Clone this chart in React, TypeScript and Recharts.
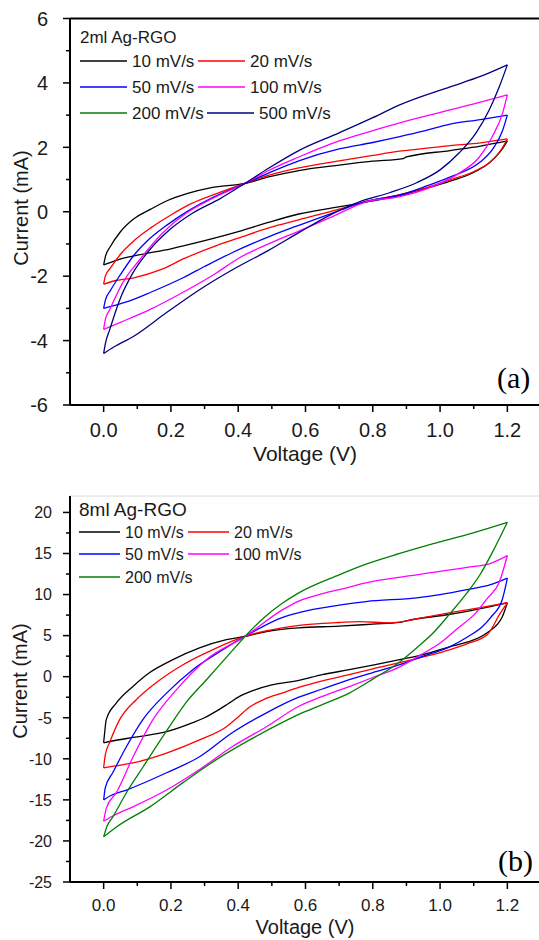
import React from "react";
import { LineChart, Line, XAxis, YAxis, ReferenceLine } from "recharts";

type Pt = [number, number];

// tick values
const voltageTicks = [0, 0.1, 0.2, 0.3, 0.4, 0.5, 0.6, 0.7, 0.8, 0.9, 1.0, 1.1, 1.2];
const currentTicksA = [-6, -5, -4, -3, -2, -1, 0, 1, 2, 3, 4, 5, 6];
const currentTicksB = [
  -25, -22.5, -20, -17.5, -15, -12.5, -10, -7.5, -5, -2.5, 0, 2.5, 5, 7.5, 10, 12.5, 15, 17.5, 20,
];

const scanRatesA = ["10 mV/s", "20 mV/s", "50 mV/s", "100 mV/s", "200 mV/s", "500 mV/s"];
const scanRatesB = ["10 mV/s", "20 mV/s", "50 mV/s", "100 mV/s", "200 mV/s"];
const rateColors: Record<string, string> = {
  "10 mV/s": "#000000",
  "20 mV/s": "#ff0000",
  "50 mV/s": "#0000ff",
  "100 mV/s": "#ff00ff",
  "200 mV/s": "#008000",
  "500 mV/s": "#000080",
};

// (a) 2ml Ag-RGO, [voltage V, current mA], forward scan then reverse scan
const a10: Pt[] = [
  [0, -1.65], [0.005, -1.4], [0.02, -1.08], [0.05, -0.62], [0.09, -0.22], [0.14, 0.08], [0.19, 0.35],
  [0.25, 0.57], [0.32, 0.75], [0.42, 0.88], [0.49, 1.08], [0.58, 1.28], [0.7, 1.45], [0.8, 1.57],
  [0.89, 1.65], [0.9, 1.7], [1.03, 1.9], [1.12, 2.04], [1.2, 2.2],
  [1.185, 1.95], [1.15, 1.55], [1.1, 1.22], [1.03, 0.95], [0.95, 0.7], [0.88, 0.5], [0.78, 0.3],
  [0.68, 0.12], [0.58, -0.07], [0.49, -0.33], [0.4, -0.62], [0.3, -0.9], [0.2, -1.15], [0.1, -1.35],
  [0.04, -1.5], [0, -1.65],
];
const a20: Pt[] = [
  [0, -2.25], [0.005, -2.0], [0.02, -1.75], [0.05, -1.32], [0.09, -0.9], [0.14, -0.5], [0.2, -0.1],
  [0.26, 0.25], [0.34, 0.58], [0.42, 0.88], [0.49, 1.13], [0.58, 1.36], [0.7, 1.58], [0.8, 1.75],
  [0.88, 1.88], [1.03, 2.05], [1.12, 2.14], [1.2, 2.26],
  [1.185, 1.98], [1.15, 1.55], [1.1, 1.25], [1.03, 0.99], [0.95, 0.72], [0.88, 0.53], [0.78, 0.32],
  [0.7, 0.08], [0.58, -0.25], [0.49, -0.5], [0.4, -0.82], [0.335, -1.05], [0.24, -1.45], [0.17, -1.8],
  [0.09, -2.05], [0.03, -2.15], [0, -2.25],
];
const a50: Pt[] = [
  [0, -3.0], [0.005, -2.75], [0.02, -2.45], [0.05, -1.95], [0.09, -1.35], [0.13, -0.9], [0.19, -0.4],
  [0.25, 0.02], [0.33, 0.47], [0.42, 0.88], [0.49, 1.2], [0.58, 1.58], [0.7, 1.95], [0.8, 2.15],
  [0.88, 2.33], [0.95, 2.5], [1.03, 2.72], [1.12, 2.86], [1.2, 3.0],
  [1.185, 2.5], [1.16, 2.0], [1.12, 1.55], [1.04, 1.12], [0.96, 0.8], [0.88, 0.52], [0.78, 0.32],
  [0.68, -0.04], [0.58, -0.42], [0.49, -0.78], [0.38, -1.28], [0.3, -1.7], [0.236, -2.05], [0.14, -2.5],
  [0.068, -2.8], [0, -3.0],
];
const a100: Pt[] = [
  [0, -3.65], [0.005, -3.35], [0.018, -3.04], [0.057, -2.2], [0.107, -1.49], [0.176, -0.65],
  [0.246, -0.04], [0.325, 0.42], [0.42, 0.88], [0.49, 1.28], [0.58, 1.7], [0.7, 2.2], [0.8, 2.52],
  [0.88, 2.76], [1.03, 3.16], [1.12, 3.4], [1.2, 3.63],
  [1.186, 3.07], [1.155, 2.33], [1.117, 1.7], [1.057, 1.2], [0.977, 0.78], [0.88, 0.47], [0.78, 0.31],
  [0.68, -0.15], [0.58, -0.6], [0.49, -1.0], [0.4, -1.45], [0.335, -1.9], [0.236, -2.5], [0.137, -3.04],
  [0.048, -3.44], [0, -3.65],
];
const a500: Pt[] = [
  [0, -4.4], [0.005, -4.1], [0.018, -3.66], [0.048, -2.73], [0.087, -1.9], [0.137, -1.18], [0.196, -0.56],
  [0.265, -0.04], [0.345, 0.4], [0.42, 0.88], [0.49, 1.35], [0.58, 1.9], [0.7, 2.45], [0.8, 2.92],
  [0.88, 3.32], [1.03, 3.88], [1.12, 4.2], [1.2, 4.56],
  [1.176, 3.88], [1.146, 3.16], [1.107, 2.45], [1.057, 1.83], [1.0, 1.3], [0.93, 0.9], [0.85, 0.59],
  [0.76, 0.31], [0.67, -0.12], [0.58, -0.65], [0.49, -1.2], [0.383, -1.8], [0.285, -2.42], [0.187, -3.13],
  [0.087, -3.88], [0.03, -4.2], [0, -4.4],
];

// (b) 8ml Ag-RGO
const b10: Pt[] = [
  [0, -8.05], [0.003, -6.8], [0.008, -5.2], [0.038, -3.2], [0.087, -1.2], [0.137, 0.5], [0.206, 2.07],
  [0.285, 3.5], [0.365, 4.5], [0.42, 4.9], [0.484, 5.5], [0.58, 5.95], [0.7, 6.15], [0.8, 6.4],
  [0.88, 6.6], [0.9, 6.8], [1.03, 7.6], [1.12, 8.3], [1.2, 9.0],
  [1.185, 7.3], [1.14, 5.35], [1.08, 4.2], [1.03, 3.66], [0.95, 2.7], [0.88, 2.07], [0.8, 1.4],
  [0.73, 0.85], [0.65, 0.25], [0.58, -0.45], [0.5, -1.0], [0.45, -1.6], [0.404, -2.4], [0.37, -3.3],
  [0.335, -4.2], [0.3, -5.0], [0.265, -5.6], [0.187, -6.7], [0.087, -7.4], [0.03, -7.8], [0, -8.05],
];
const b20: Pt[] = [
  [0, -11.1], [0.005, -9.5], [0.018, -8.0], [0.048, -5.2], [0.097, -2.8], [0.157, -0.7], [0.236, 1.46],
  [0.325, 3.3], [0.42, 4.9], [0.53, 5.95], [0.62, 6.4], [0.7, 6.6], [0.76, 6.7], [0.85, 6.55],
  [0.95, 7.2], [1.03, 7.8], [1.12, 8.4], [1.2, 9.0],
  [1.18, 7.8], [1.14, 5.1], [1.08, 4.0], [1.03, 3.3], [0.95, 2.4], [0.88, 1.7], [0.8, 0.95],
  [0.73, 0.24], [0.65, -0.5], [0.58, -1.3], [0.53, -2.0], [0.48, -2.7], [0.434, -3.7], [0.4, -4.9],
  [0.365, -6.1], [0.285, -7.7], [0.187, -9.3], [0.087, -10.5], [0.03, -10.9], [0, -11.1],
];
const b50: Pt[] = [
  [0, -15.0], [0.005, -13.5], [0.027, -11.7], [0.068, -8.5], [0.117, -5.2], [0.187, -2.0], [0.265, 0.85],
  [0.345, 3.05], [0.42, 4.9], [0.53, 7.2], [0.58, 7.8], [0.7, 8.7], [0.78, 9.15], [0.93, 9.6],
  [1.0, 10.0], [1.08, 10.6], [1.15, 11.2], [1.2, 12.0],
  [1.185, 9.4], [1.15, 7.2], [1.126, 6.1], [1.08, 4.8], [1.03, 3.66], [0.95, 2.5], [0.88, 1.46],
  [0.8, 0.5], [0.73, -0.37], [0.65, -1.5], [0.58, -2.5], [0.484, -4.4], [0.383, -6.8], [0.285, -9.75],
  [0.187, -11.7], [0.068, -13.8], [0.02, -14.5], [0, -15.0],
];
const b100: Pt[] = [
  [0, -17.6], [0.008, -16.0], [0.038, -14.1], [0.087, -9.8], [0.147, -5.2], [0.216, -1.6], [0.305, 2.07],
  [0.42, 4.9], [0.53, 8.1], [0.58, 9.2], [0.65, 10.1], [0.7, 10.6], [0.8, 11.6], [0.93, 12.4],
  [1.08, 13.3], [1.15, 13.8], [1.2, 14.75],
  [1.176, 11.5], [1.14, 9.5], [1.107, 7.8], [1.05, 5.8], [1.0, 4.1], [0.94, 2.6], [0.88, 1.2],
  [0.8, -0.1], [0.73, -1.2], [0.65, -2.4], [0.58, -3.6], [0.484, -6.1], [0.383, -8.5], [0.285, -11.3],
  [0.187, -13.8], [0.087, -15.85], [0.03, -16.9], [0, -17.6],
];
const b200: Pt[] = [
  [0, -19.5], [0.01, -18.2], [0.027, -17.1], [0.068, -14.1], [0.117, -11.0], [0.187, -6.6], [0.246, -3.1],
  [0.305, -0.4], [0.383, 3.2], [0.42, 4.9], [0.48, 7.3], [0.53, 8.9], [0.58, 10.2], [0.7, 12.4],
  [0.78, 13.7], [0.88, 15.0], [0.98, 16.2], [1.08, 17.3], [1.2, 18.8],
  [1.155, 15.1], [1.12, 12.5], [1.08, 10.2], [1.03, 7.7], [0.98, 5.35], [0.93, 3.5], [0.88, 1.8],
  [0.8, -0.3], [0.73, -2.0], [0.65, -3.4], [0.58, -4.6], [0.53, -5.6], [0.434, -7.7], [0.335, -10.1],
  [0.236, -12.9], [0.137, -15.85], [0.038, -18.3], [0, -19.5],
];

const seriesA: [string, Pt[]][] = [
  ["10 mV/s", a10],
  ["20 mV/s", a20],
  ["50 mV/s", a50],
  ["100 mV/s", a100],
  ["500 mV/s", a500],
];
const seriesB: [string, Pt[]][] = [
  ["10 mV/s", b10],
  ["20 mV/s", b20],
  ["50 mV/s", b50],
  ["100 mV/s", b100],
  ["200 mV/s", b200],
];

// split a CV loop at the vertex into two branches, both running with rising voltage
const branches = (pts: Pt[]) => {
  const vMax = Math.max(...pts.map((p) => p[0]));
  const k = pts.findIndex((p) => p[0] === vMax);
  const rows = (arr: Pt[]) => arr.map(([v, i]) => ({ v, i }));
  return [rows(pts.slice(0, k + 1)), rows(pts.slice(k).reverse())];
};

const FONT = '"Liberation Sans", Arial, Helvetica, sans-serif';
const TXT = "#1a1a1a";

const XTick = ({ x, y, payload, fontSize, labelDy }: any) => {
  const v = payload.value as number;
  const major = Math.round(v * 10) % 2 === 0;
  return (
    <g>
      <line x1={x} x2={x} y1={y} y2={y + (major ? 7 : 4)} stroke="#000" strokeWidth={1.5} />
      {major && (
        <text x={x} y={y + labelDy} textAnchor="middle" fontSize={fontSize} fontFamily={FONT} fill={TXT}>
          {v.toFixed(1)}
        </text>
      )}
    </g>
  );
};

const YTick = ({ x, y, payload, fontSize, step, gap }: any) => {
  const v = payload.value as number;
  const major = v % step === 0;
  return (
    <g>
      <line x1={x} x2={x - (major ? 7 : 4)} y1={y} y2={y} stroke="#000" strokeWidth={1.5} />
      {major && (
        <text
          x={x - gap}
          y={y + fontSize * 0.36}
          textAnchor="end"
          fontSize={fontSize}
          fontFamily={FONT}
          fill={TXT}
        >
          {v}
        </text>
      )}
    </g>
  );
};

function Panel({
  series,
  yDomain,
  yTicks,
  yStep,
  topLine,
  topColor,
  marginTop,
  marginBottom,
  tickFont,
  yTickFont,
  yGap,
  labelDy,
}: any) {
  return (
    <LineChart
      width={545}
      height={470}
      margin={{ top: marginTop, right: 4, bottom: marginBottom, left: 0 }}
    >
      <XAxis
        type="number"
        dataKey="v"
        domain={[-0.1, 1.3]}
        allowDataOverflow
        ticks={voltageTicks}
        interval={0}
        height={55}
        tickLine={false}
        tickSize={0}
        tickMargin={0}
        axisLine={{ stroke: "#000", strokeWidth: 2 }}
        tick={<XTick fontSize={tickFont} labelDy={labelDy} />}
      />
      <YAxis
        type="number"
        dataKey="i"
        domain={yDomain}
        allowDataOverflow
        ticks={yTicks}
        interval={0}
        width={70}
        tickLine={false}
        tickSize={0}
        tickMargin={0}
        axisLine={{ stroke: "#000", strokeWidth: 2 }}
        tick={<YTick fontSize={yTickFont} step={yStep} gap={yGap} />}
      />
      <ReferenceLine y={topLine} stroke={topColor} strokeWidth={topColor === "#000" ? 2 : 1} />
      {series.flatMap(([name, pts]: [string, Pt[]]) =>
        branches(pts).map((rows, b) => (
          <Line
            key={name + b}
            name={name}
            data={rows}
            dataKey="i"
            type="monotoneX"
            stroke={rateColors[name]}
            strokeWidth={1.3}
            dot={false}
            activeDot={false}
            legendType="none"
            isAnimationActive={false}
          />
        ))
      )}
    </LineChart>
  );
}

function LegendRows({ title, x, titleY, titleSize, rows, size, lineLen }: any) {
  return (
    <g fontFamily={FONT} fill={TXT}>
      <text x={x} y={titleY} fontSize={titleSize}>
        {title}
      </text>
      {rows.map((row: any, r: number) => (
        <g key={r}>
          {row.items.map((it: any) => (
            <g key={it.name}>
              <line
                x1={it.x}
                x2={it.x + lineLen}
                y1={row.y}
                y2={row.y}
                stroke={rateColors[it.name]}
                strokeWidth={1.6}
              />
              <text x={it.x + lineLen + 5} y={row.y + size * 0.36} fontSize={size}>
                {it.name}
              </text>
            </g>
          ))}
        </g>
      ))}
    </g>
  );
}

export default function App() {
  const rowsA = [
    { y: 61, items: [{ name: scanRatesA[0], x: 80 }, { name: scanRatesA[1], x: 198 }] },
    { y: 87, items: [{ name: scanRatesA[2], x: 80 }, { name: scanRatesA[3], x: 198 }] },
    { y: 113, items: [{ name: scanRatesA[4], x: 80 }, { name: scanRatesA[5], x: 207 }] },
  ];
  const rowsB = [
    { y: 532, items: [{ name: scanRatesB[0], x: 79 }, { name: scanRatesB[1], x: 188 }] },
    { y: 554, items: [{ name: scanRatesB[2], x: 79 }, { name: scanRatesB[3], x: 188 }] },
    { y: 577, items: [{ name: scanRatesB[4], x: 79 }] },
  ];
  return (
    <div
      style={{
        position: "absolute",
        left: 0,
        top: 0,
        width: 539,
        height: 940,
        overflow: "hidden",
        background: "#fff",
      }}
    >
      <div style={{ position: "absolute", left: 0, top: 0 }}>
        <Panel
          series={seriesA}
          yDomain={[-6, 6]}
          yTicks={currentTicksA}
          yStep={2}
          topLine={6}
          topColor="#000"
          marginTop={18.5}
          marginBottom={10}
          tickFont={20}
          yTickFont={20}
          yGap={22}
          labelDy={32}
        />
      </div>
      <div style={{ position: "absolute", left: 0, top: 470 }}>
        <Panel
          series={seriesB}
          yDomain={[-25, 22]}
          yTicks={currentTicksB}
          yStep={5}
          topLine={22}
          topColor="#d8d8d8"
          marginTop={26}
          marginBottom={3}
          tickFont={17}
          yTickFont={16}
          yGap={18}
          labelDy={29}
        />
      </div>
      <svg
        width={539}
        height={940}
        style={{ position: "absolute", left: 0, top: 0, pointerEvents: "none" }}
      >
        <LegendRows title="2ml Ag-RGO" x={80} titleY={43} titleSize={17} rows={rowsA} size={17} lineLen={47} />
        <LegendRows title="8ml Ag-RGO" x={79} titleY={516} titleSize={19} rows={rowsB} size={16} lineLen={41} />
        <g fontFamily={FONT} fill={TXT}>
          <text x={305} y={461} textAnchor="middle" fontSize={21}>Voltage (V)</text>
          <text transform="translate(28,208) rotate(-90)" textAnchor="middle" fontSize={20}>Current (mA)</text>
          <text x={305} y={934} textAnchor="middle" fontSize={20}>Voltage (V)</text>
          <text transform="translate(27,681) rotate(-90)" textAnchor="middle" fontSize={20}>Current (mA)</text>
        </g>
        <g fontFamily='"Liberation Serif", "Times New Roman", serif' fill="#000" fontSize={30}>
          <text x={497} y={388}>(a)</text>
          <text x={498} y={871}>(b)</text>
        </g>
      </svg>
    </div>
  );
}
